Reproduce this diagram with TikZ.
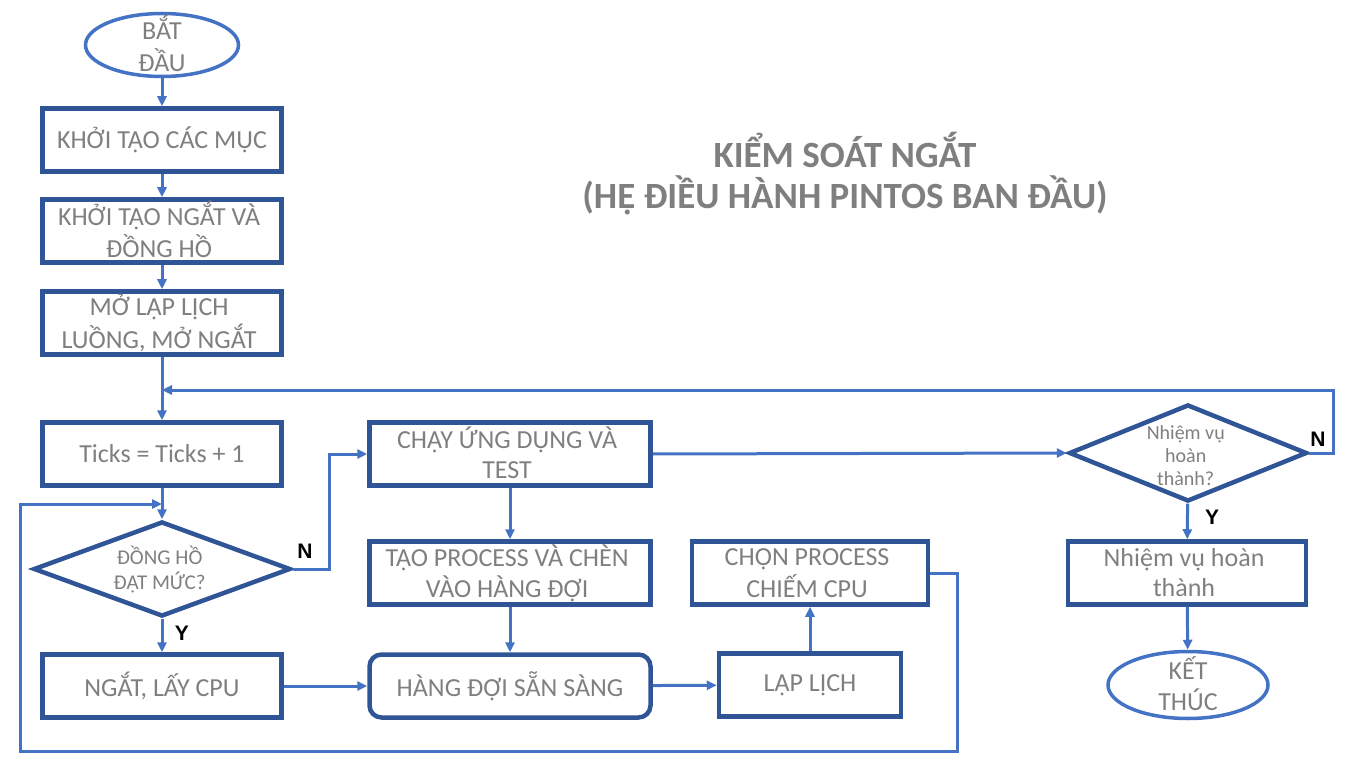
\documentclass[tikz,border=0pt]{standalone}
\usepackage{fontspec}
\setmainfont{Carlito}
\newfontfamily\labelfont{Liberation Sans}
\usepackage{xcolor}
\usepackage{tikz}
\usetikzlibrary{shapes.geometric, arrows.meta, positioning, calc}

\definecolor{boxblue}{HTML}{2F5597}
\definecolor{lineblue}{HTML}{4472C4}
\definecolor{textgray}{HTML}{7F7F7F}

\tikzset{
    stepbox/.style={rectangle,draw=boxblue,line width=4.5pt,minimum width=239pt,minimum height=63pt,
        inner sep=0pt,text=textgray,align=center,font=\fontsize{26}{30}\selectfont},
    decision/.style={diamond,draw=boxblue,line width=4.5pt,inner sep=0pt,text=textgray,align=center},
    terminal/.style={ellipse,draw=lineblue,line width=3.5pt,inner sep=0pt,text=textgray,
        font=\fontsize{26}{31}\selectfont},
    flow/.style={draw=lineblue,line width=3pt,-{Triangle[length=10pt,width=9pt]}},
    answer/.style={font=\labelfont\bfseries\fontsize{21}{24}\selectfont,text=black},
}

\begin{document}
\begin{tikzpicture}[x=1pt,y=-1pt]
    \useasboundingbox (0,0) rectangle (1347,759);

    % Tieu de
    \node[text=textgray,align=center,font=\bfseries\fontsize{37}{41}\selectfont] (title) at (845,174) {
        KIỂM SOÁT NGẮT \\
        (HỆ ĐIỀU HÀNH PINTOS BAN ĐẦU)
    };

    % Cot trai
    \node[terminal,minimum width=153pt,minimum height=63pt] (start) at (162,45) {
        \raisebox{-9pt}[0pt][0pt]{\begin{tabular}{c} BẮT \\ ĐẦU \end{tabular}}
    };
    \node[stepbox] (init) at (162,140) {KHỞI TẠO CÁC MỤC};
    \node[stepbox] (clk) at (162,231) {
        \raisebox{-9pt}[0pt][0pt]{\begin{tabular}{c} KHỞI TẠO NGẮT VÀ \\ ĐỒNG HỒ \end{tabular}}
    };
    \node[stepbox] (sched) at (162,323) {
        \raisebox{-9pt}[0pt][0pt]{\begin{tabular}{c} MỞ LẬP LỊCH \\ LUỒNG, MỞ NGẮT \end{tabular}}
    };
    \node[stepbox] (ticks) at (162,454) {Ticks = Ticks + 1};
    \node[decision,aspect=2.6,minimum width=257pt,minimum height=95pt,font=\fontsize{21}{25}\selectfont] (clock) at (162,569) {
        \raisebox{-8pt}[0pt][0pt]{\begin{tabular}{c} ĐỒNG HỒ \\ ĐẠT MỨC? \end{tabular}}
    };
    \node[stepbox] (intr) at (162,686) {NGẮT, LẤY CPU};

    % Cot giua
    \node[stepbox,minimum width=281pt] (run) at (510,454) {
        \raisebox{-9pt}[0pt][0pt]{\begin{tabular}{c} CHẠY ỨNG DỤNG VÀ \\ TEST \end{tabular}}
    };
    \node[stepbox,minimum width=281pt] (create) at (510,573) {
        \raisebox{-9pt}[0pt][0pt]{\begin{tabular}{c} TẠO PROCESS VÀ CHÈN \\ VÀO HÀNG ĐỢI \end{tabular}}
    };
    \node[stepbox,minimum width=281pt,rounded corners=12pt] (ready) at (510,686) {HÀNG ĐỢI SẴN SÀNG};
    \node[stepbox,minimum width=182pt] (lapl) at (810,685) {LẬP LỊCH};
    \node[stepbox,minimum width=236pt] (pick) at (810,573) {
        \raisebox{-9pt}[0pt][0pt]{\begin{tabular}{c} CHỌN PROCESS \\ CHIẾM CPU \end{tabular}}
    };

    % Cot phai
    \node[decision,aspect=2.45,minimum width=238pt,minimum height=97pt,font=\fontsize{20}{23}\selectfont] (done) at (1188,453) {
        \raisebox{-10pt}[0pt][0pt]{\begin{tabular}{c} Nhiệm vụ \\ hoàn \\ thành? \end{tabular}}
    };
    \node[stepbox,minimum width=238pt] (finish) at (1187,573) {
        \raisebox{-9pt}[0pt][0pt]{\begin{tabular}{c} Nhiệm vụ hoàn \\ thành \end{tabular}}
    };
    \node[terminal,minimum width=160pt,minimum height=67pt] (stop) at (1188,685) {
        \raisebox{-9pt}[0pt][0pt]{\begin{tabular}{c} KẾT \\ THÚC \end{tabular}}
    };

    % Mui ten
    \coordinate (loopin) at (162,390);
    \coordinate (backin) at (162,504);
    \draw[flow] (start) -- (init);
    \draw[flow] (init) -- (clk);
    \draw[flow] (clk) -- (sched);
    \draw[flow] (sched) -- (ticks);
    \draw[flow] (ticks) -- (clock);
    \draw[flow] (clock) -- (intr);
    \draw[flow] (clock.east) -- ++(37,0) |- (run.west);
    \draw[flow] (intr) -- (ready);
    \draw[flow] (run) -- (create);
    \draw[flow] (create) -- (ready);
    \draw[flow] (ready) -- (lapl);
    \draw[flow] (lapl) -- (pick);
    \draw[flow] (pick.east) -| (957,751) -| (20,504) -- (backin);
    \draw[flow] (run.east) -- (done.west);
    \draw[flow] (done.east) -- ++(24,0) |- (loopin);
    \draw[flow] (done) -- (finish);
    \draw[flow] (finish) -- (stop);

    % Nhan Y / N
    \node[answer] (clockno) at (305,551) {N};
    \node[answer] (clockyes) at (182,633) {Y};
    \node[answer] (doneno) at (1318,439) {N};
    \node[answer] (doneyes) at (1212,517) {Y};
\end{tikzpicture}
\end{document}
